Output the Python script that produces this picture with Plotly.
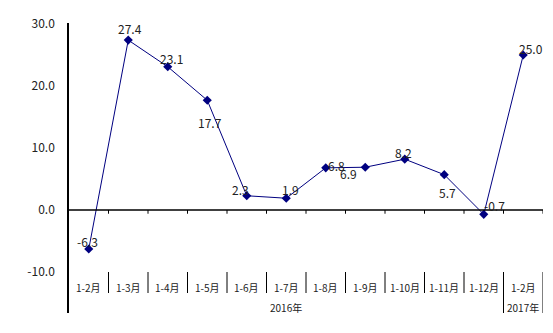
import plotly.graph_objects as go

categories = ["1-2月", "1-3月", "1-4月", "1-5月", "1-6月", "1-7月", "1-8月", "1-9月", "1-10月", "1-11月", "1-12月", "1-2月"]
values = [-6.3, 27.4, 23.1, 17.7, 2.3, 1.9, 6.8, 6.9, 8.2, 5.7, -0.7, 25.0]
value_labels = ["-6.3", "27.4", "23.1", "17.7", "2.3", "1.9", "6.8", "6.9", "8.2", "5.7", "-0.7", "25.0"]
year_labels = ["2016年", "2017年"]
year_spans = [(0, 10), (11, 11)]
ytick_vals = [-10, 0, 10, 20, 30]
ytick_text = ["-10.0", "0.0", "10.0", "20.0", "30.0"]

offsets = [(-1, 8), (2, 12), (4, 8), (3, -22), (-6, 6), (4, 9), (11, 2), (-17, -6), (-1, 7), (3, -18), (11, 9), (8, 6)]

W, H = 553, 333
ML, MR, MT, MB = 69, 10, 23, 20
ymin, ymax = -16.61, 30.16
plot_h = H - MT - MB

def py(pix):
    return (H - MB - pix) / plot_h

x = list(range(len(categories)))
fig = go.Figure()
fig.add_trace(go.Scatter(
    x=x, y=values, mode="lines+markers",
    line=dict(color="#000080", width=1),
    marker=dict(symbol="diamond", size=7, color="#000080"),
    hoverinfo="skip", showlegend=False,
))

font_num = dict(family="Noto Sans CJK SC, DejaVu Sans", size=12, color="#222222")
for i, (v, t) in enumerate(zip(values, value_labels)):
    dx, dy = offsets[i]
    fig.add_annotation(x=i, y=v, text=t, showarrow=False, xshift=dx, yshift=dy,
                       xanchor="center", yanchor="middle", font=font_num)

shapes = []
shapes.append(dict(type="line", xref="x", yref="y", x0=-0.5, x1=len(categories) - 0.5, y0=0, y1=0,
                   line=dict(color="black", width=1.5)))
for k in range(1, len(categories) + 1):
    shapes.append(dict(type="line", xref="x", yref="y", x0=k - 0.5, x1=k - 0.5, y0=0, y1=-0.6,
                       line=dict(color="black", width=1)))
year_ends = [e for s, e in year_spans]
for k in range(1, len(categories) + 1):
    y0p = py(313) if (k - 1) in year_ends else py(293)
    shapes.append(dict(type="line", xref="x", yref="paper", x0=k - 0.5, x1=k - 0.5, y0=y0p, y1=py(272),
                       line=dict(color="black", width=1)))

font_cat = dict(family="Noto Sans CJK SC, DejaVu Sans", size=10, color="#222222")
for i, c in enumerate(categories):
    fig.add_annotation(x=i, y=py(287), xref="x", yref="paper", text=c, showarrow=False,
                       xanchor="center", yanchor="middle", font=font_cat)
for (s, e), yl in zip(year_spans, year_labels):
    fig.add_annotation(x=(s + e) / 2, y=py(307), xref="x", yref="paper", text=yl, showarrow=False,
                       xanchor="center", yanchor="middle", font=font_cat)

fig.update_layout(
    width=W, height=H,
    margin=dict(l=ML, r=MR, t=MT, b=MB),
    plot_bgcolor="white", paper_bgcolor="white",
    shapes=shapes,
    xaxis=dict(range=[-0.5, len(categories) - 0.5], showgrid=False, zeroline=False,
               showticklabels=False, ticks="", showline=False, fixedrange=True),
    yaxis=dict(range=[ymin, ymax], showgrid=False, zeroline=False, showline=True,
               linecolor="black", linewidth=1.5, tickvals=ytick_vals, ticktext=ytick_text,
               ticks="", ticklabelstandoff=10,
               tickfont=dict(family="Noto Sans CJK SC, DejaVu Sans", size=12, color="#222222"),
               fixedrange=True),
)

fig.write_html("out.html", config={"displayModeBar": False})
